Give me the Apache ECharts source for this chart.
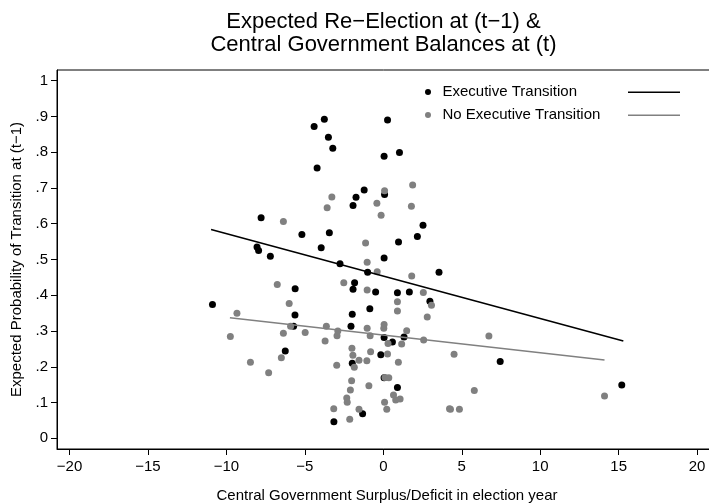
<!DOCTYPE html>
<html>
<head>
<meta charset="utf-8">
<script src="https://cdn.jsdelivr.net/npm/echarts@6/dist/echarts.min.js"></script>
<style>
html,body{margin:0;padding:0;background:#fff;}
#chart{width:709px;height:504px;}
</style>
</head>
<body>
<div id="chart"></div>
<script>
// Executive Transition: [surplus/deficit, expected probability]
const execTransition = [
  [-4.41,0.872],[-4.22,0.756],[-7.79,0.617],[-5.19,0.570],[-8.05,0.535],[-7.95,0.525],
  [-7.2,0.509],[-3.96,0.533],[-3.76,0.892],[-3.5,0.842],[-3.22,0.811],[0.27,0.890],
  [0.05,0.789],[1.03,0.799],[-1.22,0.694],[-1.74,0.674],[-1.93,0.651],[0.08,0.682],
  [2.53,0.596],[2.17,0.564],[-3.44,0.575],[0.97,0.549],[0.05,0.504],[-2.76,0.488],
  [-1.0,0.464],[3.55,0.464],[-1.83,0.435],[-1.93,0.417],[-0.49,0.409],[0.90,0.407],
  [1.66,0.409],[2.97,0.383],[-0.86,0.362],[-1.98,0.347],[-2.06,0.313],[0.05,0.282],
  [0.58,0.269],[1.32,0.283],[-0.16,0.234],[-1.98,0.210],[0.05,0.169],[0.90,0.142],
  [-1.32,0.069],[-3.15,0.046],[-5.62,0.418],[-10.89,0.374],[-5.63,0.345],[-5.72,0.313],
  [-6.25,0.244],[7.45,0.215],[15.2,0.149]
];
// No Executive Transition
const noExecTransition = [
  [-6.37,0.606],[1.87,0.708],[-3.28,0.675],[0.08,0.692],[-0.41,0.657],[-3.58,0.645],
  [1.79,0.649],[-0.14,0.624],[-1.13,0.546],[-1.03,0.492],[-0.39,0.466],[1.81,0.454],
  [-2.52,0.435],[-1.03,0.415],[2.55,0.408],[0.90,0.382],[3.07,0.372],[0.90,0.356],
  [2.8,0.339],[-4.98,0.296],[-3.63,0.313],[-2.9,0.300],[-2.95,0.287],[-3.71,0.272],
  [-1.03,0.308],[-0.84,0.287],[0.05,0.318],[0.03,0.308],[0.3,0.265],[1.17,0.264],
  [1.49,0.301],[2.57,0.275],[-2.0,0.252],[-1.94,0.232],[-0.81,0.242],[0.27,0.236],
  [-1.55,0.218],[-1.05,0.217],[-1.85,0.199],[-2.97,0.204],[0.96,0.213],[-2.02,0.161],
  [0.11,0.170],[0.35,0.169],[-0.92,0.147],[-2.1,0.135],[-2.33,0.113],[-2.3,0.101],
  [0.65,0.121],[0.79,0.107],[1.07,0.110],[0.08,0.101],[-3.16,0.083],[-1.55,0.081],
  [0.22,0.081],[-2.14,0.053],[4.22,0.083],[-6.76,0.430],[-6.0,0.377],[-9.33,0.350],
  [-5.91,0.313],[-6.37,0.294],[-9.75,0.285],[-6.5,0.225],[-8.47,0.213],[-7.31,0.183],
  [6.73,0.286],[4.51,0.235],[5.8,0.134],[4.28,0.081],[4.85,0.081],[14.1,0.118]
];
// Fitted lines (endpoints)
const fitExec = [[-10.98,0.584],[15.3,0.272]];
const fitNoExec = [[-9.78,0.337],[14.1,0.219]];

const xTicks = [-20,-15,-10,-5,0,5,10,15,20];
const yTicks = [0,0.1,0.2,0.3,0.4,0.5,0.6,0.7,0.8,0.9,1];
const yTickLabels = ['0','.1','.2','.3','.4','.5','.6','.7','.8','.9','1'];

const FONT = '"Liberation Sans", Arial, Helvetica, sans-serif';
const GRAY = '#808080';
const MED = 15;

const chart = echarts.init(document.getElementById('chart'), null, {renderer:'canvas'});
chart.setOption({
  animation: false,
  backgroundColor: '#fff',
  textStyle: {fontFamily: FONT, color: '#000'},
  title: {
    text: 'Expected Re\u2212Election at (t\u22121) &\nCentral Government Balances at (t)',
    left: 383.5, top: 10.5, textAlign: 'center', padding: 0,
    textStyle: {fontFamily: FONT, fontSize: 22, fontWeight: 'normal', color: '#000', lineHeight: 23}
  },
  legend: [{
    orient: 'vertical', left: 425, top: 83.5, padding: 0,
    itemWidth: 19, itemHeight: 6, itemGap: 6,
    icon: 'circle',
    data: ['Executive Transition','No Executive Transition'],
    textStyle: {fontFamily: FONT, fontSize: MED, color: '#000', lineHeight: 17},
    selectedMode: false
  },{
    orient: 'vertical', left: 628, top: 91.5, padding: 0,
    itemWidth: 52, itemHeight: 1.5, itemGap: 21.5,
    icon: 'rect',
    data: ['Executive Transition fit','No Executive Transition fit'],
    formatter: function(){ return ''; },
    selectedMode: false
  }],
  grid: {
    left: 57, top: 70, width: 660, height: 379,
    containLabel: false, outerBoundsMode: 'none',
    show: true, borderColor: '#000', borderWidth: 1, backgroundColor: '#fff'
  },
  xAxis: {
    type: 'value', min: -20.80, max: 21.27,
    name: 'Central Government Surplus/Deficit in election year',
    nameLocation: 'middle', nameGap: 39, nameMoveOverlap: false,
    nameTextStyle: {fontFamily: FONT, fontSize: MED, color: '#000'},
    axisLine: {show: true, onZero: false, lineStyle: {color: '#000', width: 1}},
    axisTick: {show: true, length: 6, customValues: xTicks, lineStyle: {color: '#000'}},
    axisLabel: {
      customValues: xTicks, margin: 10, fontFamily: FONT, fontSize: MED, color: '#000',
      formatter: function(v){ return v < 0 ? '\u2212' + Math.abs(v) : String(v); }
    },
    splitLine: {show: false}
  },
  yAxis: {
    type: 'value', min: -0.0299, max: 1.0299,
    name: 'Expected Probability of Transition at (t\u22121)',
    nameLocation: 'middle', nameGap: 33, nameRotate: 90, nameMoveOverlap: false,
    nameTextStyle: {fontFamily: FONT, fontSize: MED, color: '#000'},
    axisLine: {show: true, onZero: false, lineStyle: {color: '#000', width: 1}},
    axisTick: {show: true, length: 6, customValues: yTicks, lineStyle: {color: '#000'}},
    axisLabel: {
      customValues: yTicks, margin: 9, fontFamily: FONT, fontSize: MED, color: '#000',
      formatter: function(v){
        const i = yTicks.findIndex(t => Math.abs(t - v) < 1e-9);
        return i >= 0 ? yTickLabels[i] : '';
      }
    },
    splitLine: {show: false}
  },
  series: [{
    name: 'Executive Transition', type: 'scatter', data: execTransition,
    symbol: 'circle', symbolSize: 7, itemStyle: {color: '#000', opacity: 1}, z: 2
  },{
    name: 'No Executive Transition', type: 'scatter', data: noExecTransition,
    symbol: 'circle', symbolSize: 7, itemStyle: {color: GRAY, opacity: 1}, z: 3
  },{
    name: 'Executive Transition fit', type: 'line', data: fitExec,
    symbol: 'none', showSymbol: false, itemStyle: {color: '#000'},
    lineStyle: {color: '#000', width: 1.6}, z: 4
  },{
    name: 'No Executive Transition fit', type: 'line', data: fitNoExec,
    symbol: 'none', showSymbol: false, itemStyle: {color: GRAY},
    lineStyle: {color: GRAY, width: 1.6}, z: 4
  }]
});
</script>
</body>
</html>
